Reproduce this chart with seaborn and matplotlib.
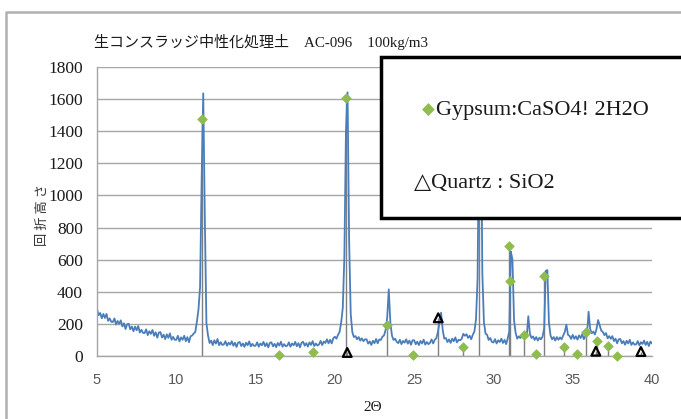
import numpy as np
import pandas as pd
import matplotlib
matplotlib.use("Agg")
import matplotlib.pyplot as plt
import seaborn as sns
from matplotlib.lines import Line2D
from matplotlib.patches import Rectangle

# ---------------- data ----------------
title_text = "生コンスラッジ中性化処理土　AC-096　100kg/m3"
x_label = "2Θ"
y_label = "回 折 高 さ"
gypsum_label = "Gypsum:CaSO4! 2H2O"
quartz_label = "△Quartz : SiO2"

x_ticks = [5, 10, 15, 20, 25, 30, 35, 40]
y_ticks = [0, 200, 400, 600, 800, 1000, 1200, 1400, 1600, 1800]

# scan: 2-theta from 5.0 to 40.0, step 0.1 deg
scan_start = 5.0
scan_step = 0.1
intensity = [
    293, 254, 268, 235, 262, 237, 262, 219, 234, 213,    # 5
    212, 234, 196, 218, 200, 222, 184, 204, 168, 198,    # 6
    201, 166, 183, 154, 183, 160, 187, 146, 163, 144,    # 7
    143, 166, 130, 154, 138, 162, 126, 148, 114, 146,    # 8
    149, 115, 133, 105, 135, 113, 141, 101, 119, 101,    # 9
    101, 126, 91, 116, 101, 126, 92, 117, 86, 122,       # 10
    128, 140, 150, 214, 290, 430, 1100, 1636, 860, 205,  # 11
    128, 81, 96, 68, 98, 77, 106, 67, 86, 69,            # 12
    72, 92, 64, 83, 71, 92, 64, 83, 56, 84,              # 13
    87, 62, 78, 57, 83, 67, 91, 60, 76, 63,              # 14
    64, 85, 58, 78, 67, 88, 61, 80, 54, 82,              # 15
    85, 60, 76, 55, 81, 65, 89, 58, 74, 61,              # 16
    64, 85, 58, 78, 67, 88, 61, 80, 54, 82,              # 17
    89, 64, 80, 59, 85, 69, 93, 62, 78, 65,              # 18
    72, 94, 68, 90, 81, 104, 79, 101, 78, 110,           # 19
    120, 108, 132, 150, 210, 300, 620, 1400, 1642, 720,  # 20
    262, 150, 118, 124, 104, 118, 96, 110, 92, 104,      # 21
    104, 77, 91, 69, 95, 80, 106, 79, 103, 100,          # 22
    120, 128, 162, 238, 415, 208, 128, 100, 108, 88,     # 23
    80, 101, 74, 94, 83, 104, 77, 96, 70, 98,            # 24
    98, 73, 89, 68, 94, 78, 102, 71, 87, 74,             # 25
    82, 103, 78, 101, 111, 150, 212, 270, 163, 108,      # 26
    112, 87, 103, 82, 108, 92, 116, 85, 101, 98,         # 27
    107, 138, 126, 136, 113, 126, 104, 133, 152, 228,    # 28
    480, 1500, 1750, 520, 212, 140, 132, 100, 112, 88,   # 29
    84, 105, 78, 98, 87, 108, 81, 100, 74, 110,          # 30
    152, 650, 600, 222, 144, 108, 122, 112, 130, 118,    # 31
    135, 124, 248, 138, 112, 122, 100, 118, 96, 114,     # 32
    104, 122, 172, 530, 535, 208, 128, 104, 118, 96,     # 33
    118, 101, 116, 104, 128, 150, 195, 132, 125, 106,    # 34
    132, 107, 123, 102, 128, 112, 136, 105, 124, 130,    # 35
    276, 168, 142, 152, 134, 168, 224, 190, 158, 150,    # 36
    130, 143, 110, 124, 107, 124, 93, 108, 79, 104,      # 37
    106, 79, 93, 70, 95, 78, 101, 69, 85, 71,            # 38
    72, 93, 66, 86, 75, 96, 69, 88, 62, 90,              # 39
    78,                                                  # 40
]
two_theta = np.round(scan_start + scan_step * np.arange(len(intensity)), 1)

# reference peak markers
gypsum_theta = [11.60, 16.48, 18.64, 20.68, 23.30, 24.94, 28.06, 29.08, 31.00,
                31.04, 31.94, 32.68, 33.22, 34.46, 35.30, 35.82, 36.54, 37.22, 37.82]
gypsum_int = [1474, 6, 23, 1605, 193, 6, 58, 1500, 685,
              467, 131, 12, 496, 58, 10, 151, 95, 62, 2]
quartz_theta = [20.78, 26.52, 36.46, 39.30]
quartz_int = [22, 238, 30, 28]

# ---------------- style ----------------
W, H = 681, 419
line_blue = "#4a7ebb"
gyp_green = "#8fbc4f"
grid_gray = "#a6a6a6"

sns.set_theme(style="white")
plt.rcParams['font.family'] = ['Noto Sans CJK JP', 'DejaVu Sans']

fig = plt.figure(figsize=(W / 100, H / 100), dpi=100)
fig.patch.set_facecolor("white")
ax = fig.add_axes([97 / W, 1 - 356 / H, (652 - 97) / W, (356 - 67) / H])
ax.set_facecolor("white")

df = pd.DataFrame({"two_theta": two_theta, "intensity": intensity})

# drop lines for the reference peaks
ax.vlines(gypsum_theta, 0, gypsum_int, colors="#7f7f7f", linewidth=1.0, zorder=1)
ax.vlines(quartz_theta, 0, quartz_int, colors="#7f7f7f", linewidth=1.0, zorder=1)

sns.lineplot(data=df, x="two_theta", y="intensity", ax=ax, color=line_blue,
             linewidth=1.3, estimator=None, zorder=2)

sns.scatterplot(x=gypsum_theta, y=gypsum_int, ax=ax, marker="D", s=24,
                color=gyp_green, edgecolor=gyp_green, linewidth=0.5,
                zorder=5, clip_on=False)
sns.scatterplot(x=quartz_theta, y=quartz_int, ax=ax, marker="^", s=40,
                facecolor="none", edgecolor="black", linewidth=1.6,
                zorder=6, clip_on=False)

ax.set_xlim(5, 40)
ax.set_ylim(0, 1800)
ax.set_xticks(x_ticks)
ax.set_yticks(y_ticks)
ax.set_xticklabels([str(v) for v in x_ticks])
ax.set_yticklabels([str(v) for v in y_ticks])
ax.yaxis.grid(True, color=grid_gray, linewidth=1.0)
ax.xaxis.grid(False)
ax.set_axisbelow(True)
for s in ["top", "right"]:
    ax.spines[s].set_visible(False)
for s in ["left", "bottom"]:
    ax.spines[s].set_color(grid_gray)
    ax.spines[s].set_linewidth(1.0)

ax.tick_params(axis="both", length=0)
ax.tick_params(axis="x", pad=12, labelsize=10.5, labelcolor="#595959")
ax.tick_params(axis="y", pad=10, labelsize=12.5, labelcolor="#1a1a1a")
for lab in ax.get_xticklabels():
    lab.set_family(['Liberation Sans Narrow', 'Liberation Sans'])
for lab in ax.get_yticklabels():
    lab.set_family(['Liberation Serif'])

ax.set_xlabel(x_label, fontsize=11, family=['Liberation Serif', 'DejaVu Serif'],
              color="#1a1a1a")
ax.xaxis.set_label_coords((373 - 97) / 555, (356 - 407) / 289)
ax.xaxis.label.set_va("center")
ax.set_ylabel(y_label, fontsize=9.5, family=['Noto Sans CJK JP', 'DejaVu Sans'],
              color="#333333")
ax.yaxis.set_label_coords((42 - 97) / 555, (356 - 215) / 289)
ax.yaxis.label.set_va("center")

# title (serif Latin, CJK falls back to Noto Sans CJK JP)
fig.text(94 / W, 1 - 42 / H, title_text, ha="left", va="center", fontsize=10.8,
         color="#1a1a1a", family=['Liberation Serif', 'Noto Sans CJK JP', 'DejaVu Sans'])

# outer chart frame (gray)
fig.add_artist(Line2D([6 / W, 6 / W, 1.0], [0.0, 1 - 12 / H, 1 - 12 / H],
                      transform=fig.transFigure, color="#b0b0b0", linewidth=1.8))

# legend box (extends past the right edge, as in the reference)
fig.add_artist(Rectangle((381 / W, 1 - 218 / H), (720 - 381) / W, (218 - 57) / H,
                         transform=fig.transFigure, facecolor="white",
                         edgecolor="black", linewidth=2.5, zorder=10))
fig.text(428 / W, 1 - 110 / H, "◆", ha="center", va="center", fontsize=12,
         color=gyp_green, family=['DejaVu Sans'], zorder=11)
fig.text(436 / W, 1 - 110 / H, gypsum_label, ha="left", va="center", fontsize=16,
         color="#1a1a1a", family=['Liberation Serif', 'DejaVu Sans'], zorder=11)
fig.text(414 / W, 1 - 183 / H, quartz_label, ha="left", va="center", fontsize=16,
         color="#1a1a1a", family=['Liberation Serif', 'DejaVu Sans'], zorder=11)

fig.savefig("out.png", dpi=100)
